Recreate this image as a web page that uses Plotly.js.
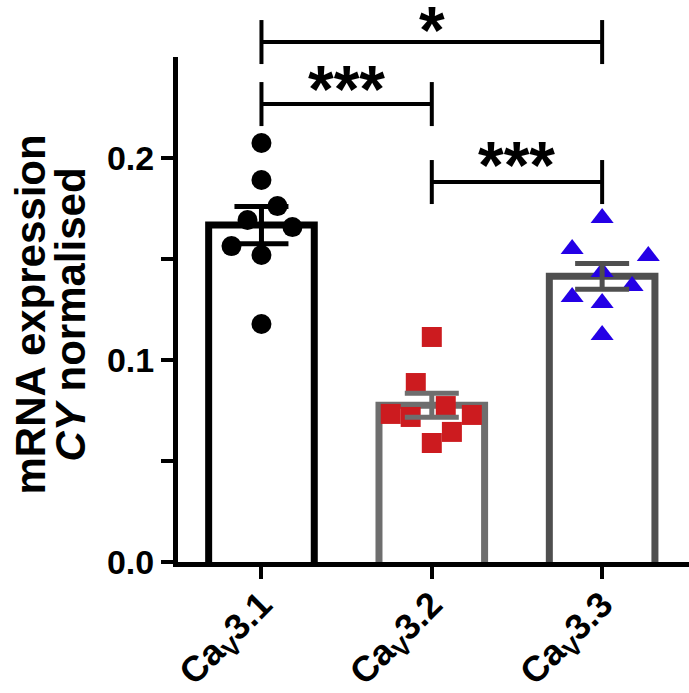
<!DOCTYPE html>
<html>
<head>
<meta charset="utf-8">
<script src="https://cdn.plot.ly/plotly-3.0.1.min.js"></script>
<style>html,body{margin:0;padding:0;background:#fff;}#chart{width:689px;height:693px;}</style>
</head>
<body>
<div id="chart"></div>
<script>
// ---- data ----
const categories = ['Ca<sub>V</sub>3.1', 'Ca<sub>V</sub>3.2', 'Ca<sub>V</sub>3.3'];
const cav31 = [0.2074, 0.1891, 0.1762, 0.1693, 0.1658, 0.1564, 0.1520, 0.1178];
const cav32 = [0.1114, 0.0886, 0.0772, 0.0733, 0.0718, 0.0728, 0.0644, 0.0589];
const cav33 = [0.1703, 0.1550, 0.1515, 0.1436, 0.1366, 0.1312, 0.1282, 0.1124];
const means = [0.1668, 0.0776, 0.1414];
const sems = [0.0092, 0.0060, 0.0064];
// horizontal scatter of points within each column (category units)
const jit31 = [0, 0, 0.094, -0.082, 0.182, -0.176, 0, 0];
const jit32 = [0, -0.094, 0.082, -0.241, -0.124, 0.235, 0.118, 0];
const jit33 = [0, -0.176, 0.271, 0, 0.176, -0.176, 0, 0];
// significance brackets
const brFrom = [0, 0, 1];
const brTo = [2, 1, 2];
const brY = [0.2574, 0.2267, 0.1881];
const brText = ['*', '***', '***'];
const brTextY = [0.2698, 0.2406, 0.2030];
const yTicks = [0, 0.05, 0.1, 0.15, 0.2];
const yTickText = ['0.0', '', '0.1', '', '0.2'];

// ---- styles ----
const FONT = 'Liberation Sans, Arial, sans-serif';
const barColors = ['#000000', '#6e6e6e', '#4f4f4f'];
const ptColors = ['#000000', '#cc1b1f', '#2400e6'];
const ptSymbols = ['circle', 'square', 'triangle-up'];
const ptSizes = [20, 20, 20];
const YMAX = 0.25;
const DEPTH = 0.004; // bars start just below the axis so their bottom edge is hidden

const groups = [cav31, cav32, cav33];
const jits = [jit31, jit32, jit33];
const idx = [0, 1, 2];

const traces = [];
traces.push({
  type: 'bar', x: idx, y: means.map(m => m + DEPTH), base: -DEPTH,
  width: 0.62,
  marker: {color: '#ffffff', line: {color: barColors, width: 7}},
  hoverinfo: 'skip', showlegend: false
});
groups.forEach((g, i) => {
  traces.push({
    type: 'scatter', mode: 'markers',
    x: g.map((_, k) => i + jits[i][k]), y: g,
    marker: {symbol: ptSymbols[i], size: ptSizes[i], color: ptColors[i], line: {width: 0}},
    showlegend: false
  });
});
groups.forEach((g, i) => {
  traces.push({
    type: 'scatter', mode: 'markers', x: [i], y: [means[i]],
    marker: {size: 1, opacity: 0},
    error_y: {type: 'data', array: [sems[i]], visible: true, color: barColors[i], thickness: 5, width: 27},
    hoverinfo: 'skip', showlegend: false
  });
});

const shapes = [];
const annotations = [];
const TICKHALF = 22 / 505; // bracket end half-height (paper units)
brFrom.forEach((f, j) => {
  const py = brY[j] / YMAX;
  const line = {color: '#000000', width: 4};
  shapes.push({type: 'line', xref: 'x', yref: 'paper', x0: f, x1: brTo[j], y0: py, y1: py, line});
  shapes.push({type: 'line', xref: 'x', yref: 'paper', x0: f, x1: f, y0: py - TICKHALF, y1: py + TICKHALF, line});
  shapes.push({type: 'line', xref: 'x', yref: 'paper', x0: brTo[j], x1: brTo[j], y0: py - TICKHALF, y1: py + TICKHALF, line});
  annotations.push({
    xref: 'x', yref: 'paper', x: (f + brTo[j]) / 2, y: brTextY[j] / YMAX,
    text: brText[j], showarrow: false, xanchor: 'center', yanchor: 'middle', yshift: -13,
    font: {family: FONT, size: 66, color: '#000000', weight: 'bold'}
  });
});
annotations.push({
  xref: 'paper', yref: 'paper', x: (31 - 178) / 511, y: 0.49, text: 'mRNA expression',
  textangle: -90, showarrow: false, xanchor: 'center', yanchor: 'middle',
  font: {family: FONT, size: 42, color: '#000000', weight: 'bold'}
});
annotations.push({
  xref: 'paper', yref: 'paper', x: (71 - 178) / 511, y: 0.49, text: '<i>CY</i> normalised',
  textangle: -90, showarrow: false, xanchor: 'center', yanchor: 'middle',
  font: {family: FONT, size: 42, color: '#000000', weight: 'bold'}
});

const layout = {
  width: 689, height: 693,
  margin: {l: 178, r: 0, t: 57, b: 131, pad: 0},
  paper_bgcolor: '#ffffff', plot_bgcolor: '#ffffff',
  showlegend: false,
  font: {family: FONT, color: '#000000'},
  xaxis: {
    range: [-0.49, 2.51], tickvals: idx, ticktext: categories, tickangle: -45,
    ticks: 'outside', ticklen: 12, tickwidth: 4, tickcolor: '#000000',
    ticklabelstandoff: -10,
    showline: true, linewidth: 5, linecolor: '#000000',
    showgrid: false, zeroline: false,
    tickfont: {family: FONT, size: 36, color: '#000000', weight: 'bold'}
  },
  yaxis: {
    range: [0, YMAX], tickvals: yTicks, ticktext: yTickText,
    ticks: 'outside', ticklen: 12, tickwidth: 4, tickcolor: '#000000',
    showline: true, linewidth: 5, linecolor: '#000000',
    showgrid: false, zeroline: false,
    tickfont: {family: FONT, size: 34, color: '#000000', weight: 'bold'}
  },
  shapes, annotations
};

Plotly.newPlot('chart', traces, layout, {displayModeBar: false, staticPlot: true});
</script>
</body>
</html>
